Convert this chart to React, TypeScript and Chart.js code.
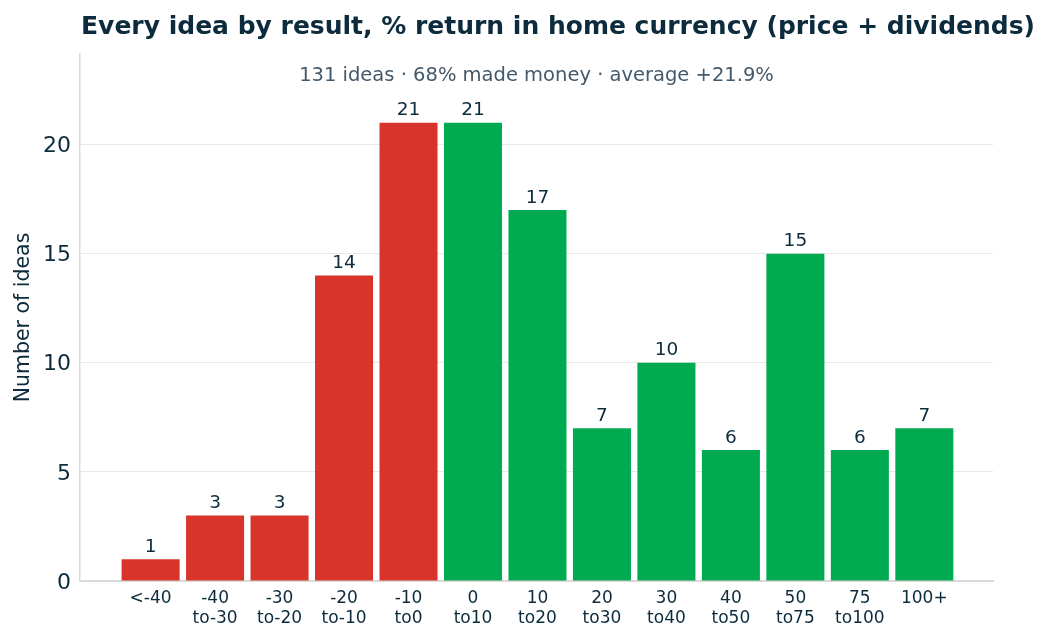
import React, { useEffect, useRef } from "react";
import { Chart, registerables } from "chart.js";

Chart.register(...registerables);

const categories: string[][] = [
  ["<-40"],
  ["-40", "to-30"],
  ["-30", "to-20"],
  ["-20", "to-10"],
  ["-10", "to0"],
  ["0", "to10"],
  ["10", "to20"],
  ["20", "to30"],
  ["30", "to40"],
  ["40", "to50"],
  ["50", "to75"],
  ["75", "to100"],
  ["100+"],
];
const counts: number[] = [1, 3, 3, 14, 21, 21, 17, 7, 10, 6, 15, 6, 7];
const barColors: string[] = [
  "#d9342b", "#d9342b", "#d9342b", "#d9342b", "#d9342b",
  "#00aa50", "#00aa50", "#00aa50", "#00aa50", "#00aa50", "#00aa50", "#00aa50", "#00aa50",
];
const yTicks: number[] = [0, 5, 10, 15, 20];
const title = "Every idea by result, % return in home currency (price + dividends)";
const subtitle = "131 ideas · 68% made money · average +21.9%";
const yLabel = "Number of ideas";

const FONT = "'DejaVu Sans', 'Liberation Sans', sans-serif";
const DARK = "#0c2b3d";

export default function App() {
  const ref = useRef<HTMLCanvasElement | null>(null);
  useEffect(() => {
    if (!ref.current) return;
    const textPlugin = {
      id: "texts",
      afterDatasetsDraw(chart: any) {
        const ctx = chart.ctx;
        const meta = chart.getDatasetMeta(0);
        ctx.save();
        ctx.fillStyle = DARK;
        ctx.font = `18.5px ${FONT}`;
        ctx.textAlign = "center";
        ctx.textBaseline = "bottom";
        meta.data.forEach((el: any, i: number) => {
          ctx.fillText(String(counts[i]), el.x, el.y - 3);
        });
        ctx.restore();
      },
      afterDraw(chart: any) {
        const ctx = chart.ctx;
        const area = chart.chartArea;
        ctx.save();
        ctx.textAlign = "center";
        ctx.textBaseline = "middle";
        ctx.fillStyle = DARK;
        ctx.font = `bold 25px ${FONT}`;
        ctx.fillText(title, 558, 27);
        ctx.fillStyle = "#44596a";
        ctx.font = `19.5px ${FONT}`;
        ctx.fillText(subtitle, (area.left + area.right) / 2, 76);
        ctx.restore();
      },
    };
    const chart = new Chart(ref.current, {
      type: "bar",
      data: {
        datasets: [
          {
            data: counts.map((v, i) => ({ x: i, y: v })),
            backgroundColor: barColors,
            borderWidth: 0,
            barPercentage: 0.9,
            categoryPercentage: 1.0,
          },
        ],
      },
      options: {
        animation: false,
        responsive: false,
        layout: { padding: { top: 54, right: 57, left: 0, bottom: 0 } },
        plugins: { legend: { display: false }, tooltip: { enabled: false } },
        scales: {
          x: {
            type: "linear",
            offset: false,
            min: -1.095,
            max: 13.065,
            afterBuildTicks: (scale: any) => {
              scale.ticks = categories.map((_, i) => ({ value: i }));
            },
            afterFit: (scale: any) => {
              scale.height = 61;
            },
            grid: { color: "rgba(0,0,0,0)", drawTicks: false, offset: false },
            border: { display: true, color: "#d9d9d9", width: 2 },
            ticks: {
              autoSkip: false,
              maxRotation: 0,
              padding: 7,
              color: DARK,
              font: { family: FONT, size: 17, lineHeight: 1.2 },
              callback: (v: any) => categories[Number(v)] ?? "",
            },
          },
          y: {
            min: 0,
            max: 24.15,
            afterBuildTicks: (scale: any) => {
              scale.ticks = yTicks.map((v) => ({ value: v }));
            },
            afterFit: (scale: any) => {
              scale.width = 80;
            },
            grid: { color: "#e8e8e8", lineWidth: 1, drawTicks: false },
            border: { display: true, color: "#d9d9d9", width: 1.5 },
            ticks: {
              padding: 9,
              labelOffset: 2,
              color: DARK,
              font: { family: FONT, size: 22 },
            },
            title: {
              display: true,
              text: yLabel,
              color: DARK,
              padding: { top: 11, bottom: 0 },
              font: { family: FONT, size: 20.5, lineHeight: 1.2 },
            },
          },
        },
      },
      plugins: [textPlugin],
    });
    return () => chart.destroy();
  }, []);
  return (
    <div style={{ position: "absolute", left: 0, top: 0, width: 1050, height: 642, background: "#fff" }}>
      <canvas ref={ref} width={1050} height={642} />
    </div>
  );
}
